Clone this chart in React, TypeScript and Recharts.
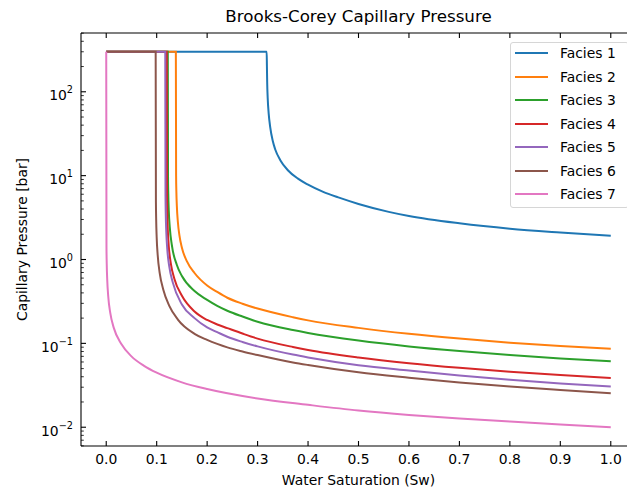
import { LineChart, Line, XAxis, YAxis, Legend, ReferenceLine } from "recharts";

const FONT = "'DejaVu Sans', sans-serif";
const PLOT_LEFT = 81;
const PLOT_TOP = 33;
const PLOT_BOTTOM = 446;

const faciesNames = ["Facies 1", "Facies 2", "Facies 3", "Facies 4", "Facies 5", "Facies 6", "Facies 7"];
const faciesColors = ["#1f77b4", "#ff7f0e", "#2ca02c", "#d62728", "#9467bd", "#8c564b", "#e377c2"];

// water saturation / capillary pressure [bar]
const sw1 = [0, 0.318, 0.3185, 0.319, 0.32, 0.322, 0.325, 0.33, 0.335, 0.345, 0.36, 0.38, 0.4, 0.43, 0.46, 0.5, 0.56, 0.6, 0.7, 0.8, 0.9, 1.0];
const pc1 = [300, 300, 200, 130, 85, 55, 38, 26, 20.5, 15.3, 11.6, 9.2, 7.8, 6.4, 5.5, 4.6, 3.7, 3.3, 2.7, 2.33, 2.1, 1.92];

const sw2 = [0, 0.138, 0.1385, 0.139, 0.14, 0.142, 0.145, 0.15, 0.16, 0.175, 0.2, 0.22, 0.24, 0.27, 0.3, 0.37, 0.4, 0.5, 0.6, 0.7, 0.8, 0.9, 1.0];
const pc2 = [300, 300, 10, 6.5, 4.3, 2.8, 1.95, 1.38, 0.95, 0.69, 0.49, 0.41, 0.35, 0.297, 0.26, 0.205, 0.188, 0.153, 0.13, 0.114, 0.102, 0.093, 0.086];

const sw3 = [0, 0.122, 0.1225, 0.123, 0.124, 0.126, 0.13, 0.14, 0.15, 0.175, 0.2, 0.22, 0.24, 0.27, 0.3, 0.37, 0.4, 0.5, 0.6, 0.7, 0.8, 0.9, 1.0];
const pc3 = [300, 300, 9.8, 6.1, 3.8, 2.4, 1.49, 0.86, 0.635, 0.42, 0.33, 0.28, 0.245, 0.209, 0.181, 0.144, 0.133, 0.108, 0.092, 0.081, 0.0727, 0.0662, 0.061];

const sw4 = [0, 0.12, 0.1205, 0.121, 0.122, 0.124, 0.128, 0.135, 0.15, 0.175, 0.2, 0.22, 0.24, 0.27, 0.3, 0.37, 0.4, 0.5, 0.6, 0.7, 0.8, 0.9, 1.0];
const pc4 = [300, 300, 5.8, 3.6, 2.29, 1.43, 0.9, 0.59, 0.37, 0.24, 0.19, 0.168, 0.152, 0.131, 0.114, 0.0905, 0.0834, 0.0679, 0.058, 0.0511, 0.046, 0.042, 0.0387];

const sw5 = [0, 0.117, 0.1175, 0.118, 0.119, 0.121, 0.125, 0.132, 0.15, 0.175, 0.2, 0.22, 0.24, 0.27, 0.3, 0.37, 0.4, 0.5, 0.6, 0.7, 0.8, 0.9, 1.0];
const pc5 = [300, 300, 5.7, 3.5, 2.16, 1.33, 0.82, 0.53, 0.29, 0.2, 0.155, 0.136, 0.12, 0.104, 0.092, 0.0735, 0.068, 0.055, 0.0475, 0.0415, 0.0368, 0.0333, 0.0305];

const sw6 = [0, 0.098, 0.0985, 0.099, 0.1, 0.102, 0.106, 0.113, 0.125, 0.142, 0.175, 0.2, 0.22, 0.24, 0.27, 0.3, 0.37, 0.4, 0.5, 0.6, 0.7, 0.8, 0.9, 1.0];
const pc6 = [300, 300, 4.8, 2.97, 1.83, 1.13, 0.69, 0.44, 0.28, 0.192, 0.13, 0.11, 0.0985, 0.0895, 0.08, 0.0725, 0.0592, 0.0552, 0.0452, 0.039, 0.0342, 0.0306, 0.0278, 0.0254];

const sw7 = [0, 0.0005, 0.001, 0.002, 0.004, 0.008, 0.015, 0.03, 0.05, 0.075, 0.1, 0.15, 0.2, 0.3, 0.4, 0.5, 0.6, 0.7, 0.8, 0.9, 1.0];
const pc7 = [300, 1.4, 0.89, 0.57, 0.362, 0.231, 0.153, 0.098, 0.07, 0.054, 0.0447, 0.0343, 0.0285, 0.022, 0.0185, 0.0158, 0.014, 0.0127, 0.0117, 0.0108, 0.01];

const xTicks = [0, 0.1, 0.2, 0.3, 0.4, 0.5, 0.6, 0.7, 0.8, 0.9, 1.0];
const yMajor = [0.01, 0.1, 1, 10, 100];
const yMinor = [
  0.006, 0.007, 0.008, 0.009,
  0.02, 0.03, 0.04, 0.05, 0.06, 0.07, 0.08, 0.09,
  0.2, 0.3, 0.4, 0.5, 0.6, 0.7, 0.8, 0.9,
  2, 3, 4, 5, 6, 7, 8, 9,
  20, 30, 40, 50, 60, 70, 80, 90,
  200, 300, 400, 500,
];

const series = [
  [sw1, pc1], [sw2, pc2], [sw3, pc3], [sw4, pc4], [sw5, pc5], [sw6, pc6], [sw7, pc7],
].map(([sw, pc], i) => ({
  name: faciesNames[i],
  color: faciesColors[i],
  data: sw.map((s, j) => ({ sw: s, pc: pc[j] })),
}));

function XTick({ x, payload }: any) {
  return (
    <g>
      <line x1={x} x2={x} y1={PLOT_BOTTOM} y2={PLOT_BOTTOM - 5} stroke="#000" strokeWidth={1.1} />
      <line x1={x} x2={x} y1={PLOT_TOP} y2={PLOT_TOP + 5} stroke="#000" strokeWidth={1.1} />
      <text x={x} y={464} textAnchor="middle" fontSize={13.9} fontFamily={FONT} fill="#000">
        {Number(payload.value).toFixed(1)}
      </text>
    </g>
  );
}

function YTick({ y, payload }: any) {
  const v = payload.value;
  const major = yMajor.includes(v);
  if (!major) {
    return <line x1={PLOT_LEFT} x2={PLOT_LEFT + 2.8} y1={y} y2={y} stroke="#000" strokeWidth={0.8} />;
  }
  const exp = Math.round(Math.log10(v));
  return (
    <g>
      <line x1={PLOT_LEFT} x2={PLOT_LEFT + 5} y1={y} y2={y} stroke="#000" strokeWidth={1.1} />
      <text x={73} y={y + 8.3} textAnchor="end" fontSize={13.9} fontFamily={FONT} fill="#000">
        10
        <tspan dy={-7} fontSize={9.7}>
          {exp < 0 ? "\u2212" + Math.abs(exp) : String(exp)}
        </tspan>
      </text>
    </g>
  );
}

function FaciesLegend() {
  return (
    <div
      style={{
        position: "relative",
        width: 119,
        height: 166,
        boxSizing: "border-box",
        border: "1px solid #d6d6d6",
        borderRadius: 3,
        background: "rgba(255,255,255,0.8)",
        fontFamily: FONT,
      }}
    >
      {series.map((s, i) => (
        <div
          key={s.name}
          style={{
            position: "absolute",
            left: 4,
            top: 10.3 + i * 23.45 - 10,
            height: 20,
            display: "flex",
            alignItems: "center",
            whiteSpace: "nowrap",
          }}
        >
          <span style={{ display: "inline-block", width: 33, height: 2, background: s.color }} />
          <span style={{ marginLeft: 12, fontSize: 13.9, color: "#000", lineHeight: "20px" }}>{s.name}</span>
        </div>
      ))}
    </div>
  );
}

export default function App() {
  return (
    <div
      style={{
        position: "absolute",
        left: 0,
        top: 0,
        width: 627,
        height: 490,
        overflow: "hidden",
        background: "#fff",
        fontFamily: FONT,
      }}
    >
      <div
        style={{
          position: "absolute",
          left: PLOT_LEFT,
          top: 6,
          width: 555,
          textAlign: "center",
          fontSize: 16.7,
          lineHeight: "20px",
          color: "#000",
          whiteSpace: "nowrap",
        }}
      >
        Brooks-Corey Capillary Pressure
      </div>
      <LineChart width={660} height={490} margin={{ top: PLOT_TOP, right: 24, left: 0, bottom: 0 }}>
        <XAxis
          dataKey="sw"
          type="number"
          domain={[-0.05, 1.05]}
          ticks={xTicks}
          interval={0}
          allowDataOverflow
          height={44}
          tickLine={false}
          axisLine={{ stroke: "#000", strokeWidth: 1.1 }}
          tick={XTick}
          label={{
            content: ({ viewBox }: any) => (
              <text
                x={viewBox.x + viewBox.width / 2}
                y={485}
                textAnchor="middle"
                fontSize={13.9}
                fontFamily={FONT}
                fill="#000"
              >
                Water Saturation (Sw)
              </text>
            ),
          }}
        />
        <YAxis
          dataKey="pc"
          type="number"
          scale="log"
          domain={[0.005972, 502.3]}
          ticks={[...yMinor, ...yMajor]}
          interval={0}
          allowDataOverflow
          width={81}
          tickLine={false}
          axisLine={{ stroke: "#000", strokeWidth: 1.1 }}
          tick={YTick}
          label={{
            content: ({ viewBox }: any) => {
              const cy = viewBox.y + viewBox.height / 2;
              return (
                <text
                  x={27}
                  y={cy}
                  transform={`rotate(-90, 27, ${cy})`}
                  textAnchor="middle"
                  fontSize={13.9}
                  fontFamily={FONT}
                  fill="#000"
                >
                  Capillary Pressure [bar]
                </text>
              );
            },
          }}
        />
        <ReferenceLine y={502.3} stroke="#000" strokeWidth={1.1} ifOverflow="visible" />
        {series.map((s) => (
          <Line
            key={s.name}
            data={s.data}
            dataKey="pc"
            name={s.name}
            type="monotone"
            stroke={s.color}
            strokeWidth={2}
            dot={false}
            activeDot={false}
            isAnimationActive={false}
          />
        ))}
        <Legend
          layout="vertical"
          align="center"
          verticalAlign="middle"
          wrapperStyle={{ left: 510, top: 42, width: 119, height: 166 }}
          content={() => <FaciesLegend />}
        />
      </LineChart>
    </div>
  );
}
